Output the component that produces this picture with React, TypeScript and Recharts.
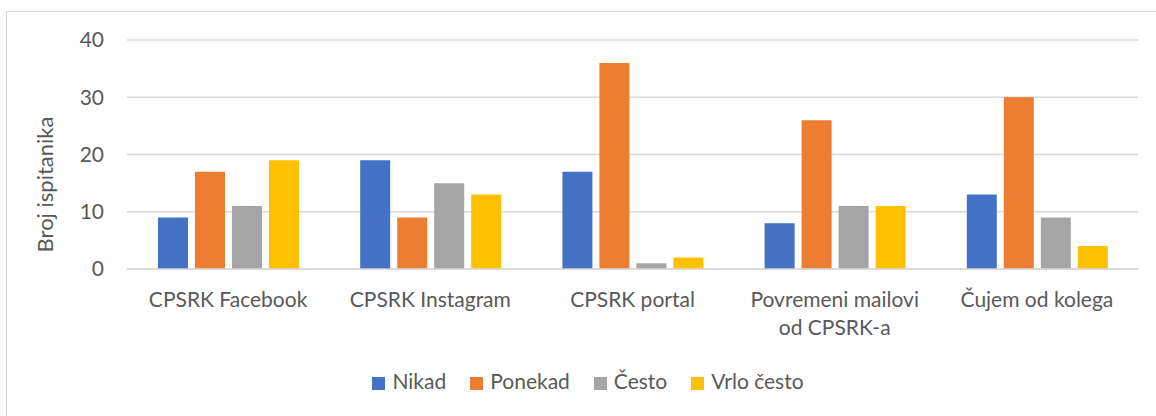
import { BarChart, Bar, XAxis, YAxis, CartesianGrid, Legend } from "recharts";

const categories = [
  "CPSRK Facebook",
  "CPSRK Instagram",
  "CPSRK portal",
  "Povremeni mailovi\nod CPSRK-a",
  "Čujem od kolega",
];
const seriesNames = ["Nikad", "Ponekad", "Često", "Vrlo često"];
const nikad = [9, 19, 17, 8, 13];
const ponekad = [17, 9, 36, 26, 30];
const cesto = [11, 15, 1, 11, 9];
const vrloCesto = [19, 13, 2, 11, 4];
const yTicks = [0, 10, 20, 30, 40];

const data = categories.map((name, i) => ({
  name,
  nikad: nikad[i],
  ponekad: ponekad[i],
  cesto: cesto[i],
  vrloCesto: vrloCesto[i],
}));

const font = "Lato, 'Open Sans', sans-serif";
const textColor = "#595959";

function CategoryTick(props: any) {
  const { x, y, payload } = props;
  const lines = String(payload.value).split("\n");
  return (
    <text
      x={x}
      y={y + 15}
      textAnchor="middle"
      fill={textColor}
      style={{ fontSize: 21, fontFamily: font }}
    >
      {lines.map((line, i) => (
        <tspan key={i} x={x} dy={i === 0 ? "0.71em" : 28}>
          {line}
        </tspan>
      ))}
    </text>
  );
}

export default function App() {
  return (
    <div
      style={{
        position: "absolute",
        left: 0,
        top: 0,
        width: 1156,
        height: 416,
        overflow: "hidden",
        background: "#fff",
        fontFamily: font,
      }}
    >
      <div
        style={{
          position: "absolute",
          left: 6,
          top: 11,
          width: 1200,
          height: 500,
          border: "1px solid #d9d9d9",
        }}
      />
      <div style={{ position: "absolute", left: 0, top: 0 }}>
        <BarChart
          width={1156}
          height={416}
          data={data}
          margin={{ top: 40, right: 18, left: 0, bottom: 0 }}
          barGap={7}
          barCategoryGap={31}
        >
          <CartesianGrid vertical={false} stroke="#d9d9d9" strokeWidth={1.3} />
          <XAxis
            dataKey="name"
            axisLine={{ stroke: "#d9d9d9", strokeWidth: 1.3 }}
            tickLine={false}
            tick={<CategoryTick />}
            interval={0}
            height={147}
          />
          <YAxis
            domain={[0, 40]}
            ticks={yTicks}
            width={127}
            axisLine={false}
            tickLine={false}
            tickMargin={17}
            tick={{ fill: textColor, fontSize: 21, fontFamily: font }}
            label={{
              value: "Broj ispitanika",
              angle: -90,
              position: "insideLeft",
              offset: 45,
              dy: 30,
              textAnchor: "middle",
              fill: textColor,
              fontSize: 22,
              fontFamily: font,
            }}
          />
          <Legend
            layout="horizontal"
            verticalAlign="middle"
            align="center"
            iconType="square"
            iconSize={13}
            itemSorter={(item: any) => seriesNames.indexOf(item.value)}
            wrapperStyle={{ top: 368, left: 22, width: 1156, fontSize: 21, fontFamily: font }}
            formatter={(value) => (
              <span style={{ color: textColor, marginLeft: 3, marginRight: 14 }}>{value}</span>
            )}
          />
          <Bar dataKey="nikad" name="Nikad" fill="#4472C4" isAnimationActive={false} />
          <Bar dataKey="ponekad" name="Ponekad" fill="#ED7D31" isAnimationActive={false} />
          <Bar dataKey="cesto" name="Često" fill="#A5A5A5" isAnimationActive={false} />
          <Bar dataKey="vrloCesto" name="Vrlo često" fill="#FFC000" isAnimationActive={false} />
        </BarChart>
      </div>
    </div>
  );
}
